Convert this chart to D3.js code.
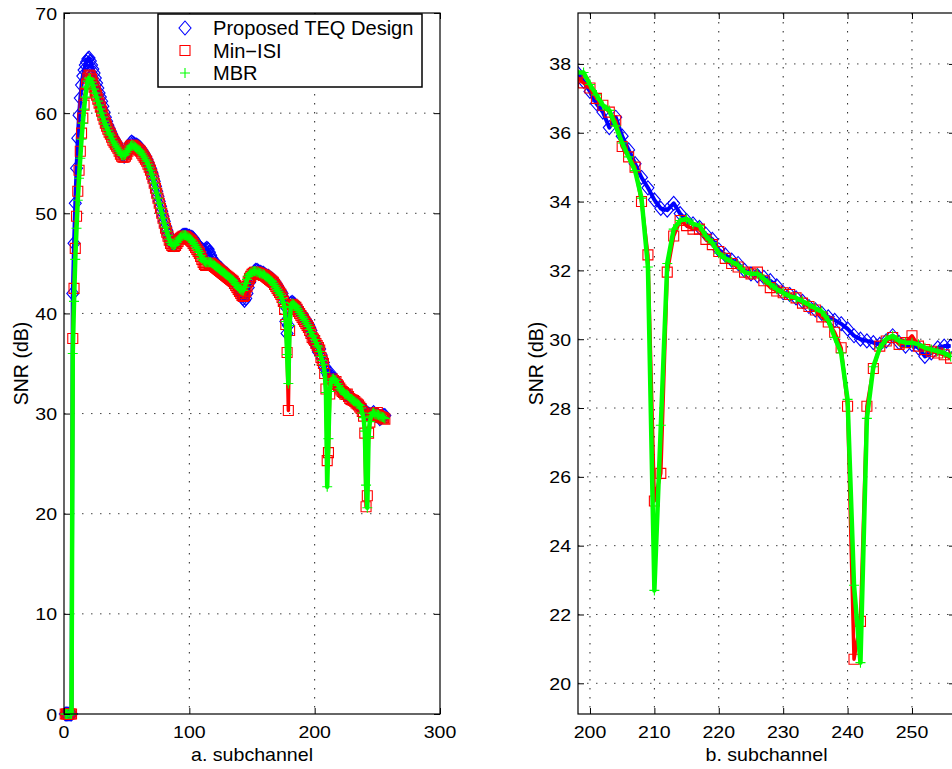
<!DOCTYPE html>
<html>
<head>
<meta charset="utf-8">
<script src="https://cdn.jsdelivr.net/npm/d3@7"></script>
<style>
  body { margin: 0; background: #fff; }
  svg { display: block; }
  text { font-family: "Liberation Sans", Arial, Helvetica, sans-serif; fill: #000; }
</style>
</head>
<body>
<script>

// subchannel index 1..256
var subchannel = d3.range(1, 257);

// Proposed TEQ Design (blue diamonds)
var teqSnr = [
  0, 0, 0, 0, 0, 0, 42.0, 47.0, 51.0, 54.5,
  57.5, 59.8, 61.5, 62.8, 63.7, 64.3, 64.8, 65.1, 65.4, 65.5,
  65.2, 64.8, 64.4, 64.0, 63.5, 63.0, 62.5, 62.0, 61.6, 61.2,
  60.7, 60.1, 59.6, 59.2, 58.8, 58.5, 58.2, 57.9, 57.6, 57.4,
  57.2, 57.0, 56.7, 56.4, 56.1, 55.9, 55.8, 55.7, 55.8, 56.0,
  56.3, 56.7, 57.0, 57.1, 57.0, 56.9, 56.8, 56.8, 56.7, 56.6,
  56.5, 56.3, 56.1, 55.9, 55.7, 55.4, 55.1, 54.8, 54.5, 54.1,
  53.7, 53.2, 52.7, 52.2, 51.7, 51.2, 50.7, 50.2, 49.7, 49.2,
  48.7, 48.3, 47.9, 47.5, 47.2, 47.0, 46.9, 46.9, 47.0, 47.2,
  47.4, 47.5, 47.6, 47.7, 47.8, 47.8, 47.8, 47.8, 47.7, 47.7,
  47.6, 47.6, 47.5, 47.3, 47.1, 46.9, 46.8, 46.6, 46.5, 46.4,
  46.3, 46.3, 46.4, 46.5, 46.4, 46.1, 45.8, 45.5, 45.3, 45.1,
  44.9, 44.8, 44.7, 44.6, 44.5, 44.3, 44.2, 44.1, 44.0, 43.9,
  43.7, 43.6, 43.5, 43.4, 43.3, 43.2, 43.0, 42.8, 42.6, 42.4,
  42.1, 41.8, 41.5, 41.3, 41.5, 42.0, 42.6, 43.1, 43.5, 43.8,
  44.0, 44.2, 44.3, 44.3, 44.2, 44.1, 44.1, 44.0, 44.0, 43.9,
  43.8, 43.7, 43.7, 43.6, 43.5, 43.4, 43.3, 43.2, 43.0, 42.8,
  42.6, 42.4, 42.2, 42.0, 41.6, 40.8, 39.2, 38.0, 38.8, 40.4,
  41.0, 41.1, 41.0, 40.9, 40.7, 40.6, 40.4, 40.2, 40.0, 39.9,
  39.7, 39.5, 39.3, 39.1, 38.9, 38.6, 38.3, 37.75, 37.5, 37.2,
  36.85, 36.6, 36.15, 36.45, 35.9, 35.5, 35.1, 34.7, 34.4, 34.05,
  33.8, 33.75, 33.95, 33.65, 33.45, 33.35, 33.25, 33.05, 32.9, 32.6,
  32.45, 32.3, 32.2, 32.0, 31.9, 31.85, 31.8, 31.7, 31.55, 31.35,
  31.3, 31.2, 31.1, 30.95, 30.85, 30.75, 30.65, 30.55, 30.45, 30.3,
  30.1, 30.0, 29.95, 29.9, 29.85, 29.95, 30.1, 29.9, 29.8, 29.85,
  29.75, 29.5, 29.6, 29.75, 29.8, 29.8
];

// Min-ISI (red squares)
var minIsiSnr = [
  0, 0, 0, 0, 0, 0, 37.5, 42.5, 46.5, 49.7,
  52.2, 54.3, 56.2, 58.0, 59.5, 60.8, 62.0, 62.9, 63.5, 63.8,
  63.7, 63.4, 63.0, 62.6, 62.2, 61.8, 61.4, 61.0, 60.6, 60.2,
  59.8, 59.4, 59.0, 58.7, 58.4, 58.1, 57.9, 57.6, 57.3, 57.1,
  56.9, 56.7, 56.5, 56.2, 55.9, 55.7, 55.6, 55.6, 55.7, 55.9,
  56.2, 56.5, 56.7, 56.8, 56.8, 56.7, 56.6, 56.5, 56.4, 56.3,
  56.2, 56.0, 55.8, 55.6, 55.4, 55.2, 54.9, 54.6, 54.3, 53.9,
  53.5, 53.0, 52.5, 52.0, 51.5, 51.0, 50.5, 50.0, 49.5, 49.0,
  48.5, 48.1, 47.7, 47.3, 47.0, 46.8, 46.7, 46.7, 46.8, 47.0,
  47.2, 47.4, 47.5, 47.6, 47.7, 47.7, 47.7, 47.6, 47.5, 47.4,
  47.3, 47.2, 47.0, 46.8, 46.6, 46.4, 46.2, 46.0, 45.7, 45.4,
  45.1, 44.9, 44.8, 44.8, 44.9, 45.0, 45.0, 44.9, 44.8, 44.7,
  44.6, 44.5, 44.4, 44.3, 44.2, 44.1, 44.0, 43.9, 43.8, 43.7,
  43.6, 43.5, 43.4, 43.3, 43.2, 43.0, 42.8, 42.6, 42.4, 42.2,
  42.0, 41.8, 41.7, 41.8, 42.2, 42.7, 43.2, 43.5, 43.7, 43.9,
  44.0, 44.1, 44.1, 44.1, 44.0, 44.0, 43.9, 43.9, 43.8, 43.8,
  43.7, 43.6, 43.5, 43.4, 43.3, 43.2, 43.1, 42.9, 42.7, 42.5,
  42.3, 42.1, 41.9, 41.6, 41.2, 40.4, 38.9, 36.1, 30.3, 38.3,
  40.6, 40.9, 40.8, 40.7, 40.6, 40.4, 40.2, 40.0, 39.8, 39.6,
  39.4, 39.2, 39.0, 38.8, 38.6, 38.3, 38.0, 37.6, 37.45, 37.3,
  37.0, 36.8, 36.6, 36.35, 35.6, 35.3, 35.0, 34.0, 32.45, 25.3,
  26.1, 31.95, 33.0, 33.45, 33.3, 33.2, 33.2, 32.9, 32.75, 32.55,
  32.35, 32.2, 32.1, 31.95, 31.9, 31.95, 31.7, 31.5, 31.4, 31.35,
  31.3, 31.2, 31.05, 30.95, 30.85, 30.65, 30.5, 30.2, 29.75, 28.05,
  20.7, 21.8, 28.05, 29.15, 29.8, 29.95, 30.05, 29.85, 29.9, 30.1,
  29.8, 29.7, 29.65, 29.6, 29.55, 29.45
];

// MBR (green plus)
var mbrSnr = [
  0, 0, 0, 0, 0, 0, 36.0, 41.2, 45.4, 48.5,
  51.3, 53.5, 55.5, 57.4, 59.0, 60.4, 61.6, 62.6, 63.2, 63.5,
  63.4, 63.1, 62.8, 62.4, 62.0, 61.6, 61.2, 60.8, 60.4, 60.0,
  59.6, 59.2, 58.9, 58.6, 58.3, 58.0, 57.8, 57.5, 57.2, 57.0,
  56.8, 56.6, 56.4, 56.2, 56.0, 55.8, 55.8, 55.8, 55.9, 56.1,
  56.3, 56.5, 56.7, 56.8, 56.8, 56.7, 56.6, 56.5, 56.4, 56.3,
  56.2, 56.0, 55.8, 55.6, 55.4, 55.2, 54.9, 54.6, 54.3, 53.9,
  53.5, 53.0, 52.5, 52.0, 51.5, 51.0, 50.5, 50.0, 49.5, 49.0,
  48.6, 48.2, 47.8, 47.4, 47.1, 46.9, 46.8, 46.8, 46.9, 47.1,
  47.3, 47.5, 47.6, 47.7, 47.8, 47.8, 47.8, 47.7, 47.6, 47.5,
  47.4, 47.3, 47.1, 46.9, 46.7, 46.5, 46.3, 46.1, 45.8, 45.5,
  45.3, 45.2, 45.1, 45.1, 45.1, 45.1, 45.1, 45.0, 44.9, 44.8,
  44.7, 44.6, 44.5, 44.4, 44.3, 44.2, 44.1, 44.0, 43.9, 43.8,
  43.7, 43.6, 43.5, 43.4, 43.3, 43.1, 42.9, 42.8, 42.6, 42.5,
  42.4, 42.3, 42.3, 42.6, 43.0, 43.4, 43.7, 43.9, 44.0, 44.1,
  44.2, 44.2, 44.2, 44.1, 44.1, 44.0, 44.0, 43.9, 43.9, 43.8,
  43.7, 43.6, 43.5, 43.4, 43.3, 43.2, 43.0, 42.8, 42.6, 42.4,
  42.2, 42.0, 41.8, 41.5, 41.1, 40.6, 39.2, 35.9, 33.0, 38.8,
  40.7, 41.0, 40.9, 40.8, 40.7, 40.5, 40.3, 40.1, 39.9, 39.7,
  39.5, 39.3, 39.1, 38.9, 38.7, 38.4, 38.1, 37.75, 37.75, 37.4,
  37.1, 36.8, 36.65, 36.2, 35.7, 35.3, 34.9, 34.1, 32.1, 22.7,
  27.5, 32.2, 33.2, 33.45, 33.5, 33.35, 33.3, 33.0, 32.8, 32.5,
  32.35, 32.25, 32.15, 31.95, 31.9, 31.9, 31.75, 31.6, 31.45, 31.35,
  31.25, 31.2, 31.1, 31.0, 30.9, 30.8, 30.55, 30.05, 29.6, 28.25,
  22.85, 20.6, 27.7, 29.2, 29.75, 30.0, 30.1, 29.95, 29.9, 29.9,
  29.85, 29.75, 29.7, 29.65, 29.6, 29.5
];

var seriesNames = ["Proposed TEQ Design", "Min\u2212ISI", "MBR"];

// tick labels
var xTicksA = [0, 100, 200, 300];
var yTicksA = [0, 10, 20, 30, 40, 50, 60, 70];
var xTicksB = [200, 210, 220, 230, 240, 250];
var yTicksB = [20, 22, 24, 26, 28, 30, 32, 34, 36, 38];

var W = 952, H = 769;
var svg = d3.select("body").append("svg").attr("width", W).attr("height", H);

var series = [
  {name: seriesNames[0], values: teqSnr, color: "#0000ff", lw: 4, marker: "diamond"},
  {name: seriesNames[1], values: minIsiSnr, color: "#ff0000", lw: 3.5, marker: "square"},
  {name: seriesNames[2], values: mbrSnr, color: "#00ff00", lw: 4.5, marker: "plus"}
];

function markerPath(type) {
  if (type == "diamond") return "M0,-7L6,0L0,7L-6,0Z";
  if (type == "square") return "M-5,-5H5V5H-5Z";
  return "M-5,0H5M0,-5V5";
}

// text with a bit of horizontal stretch, like the original raster
function putText(g, x, y, str, size, anchor, sx) {
  g.append("g").attr("transform", "translate(" + x + "," + y + ") scale(" + sx + ",1)")
    .append("text").attr("text-anchor", anchor).style("font-size", size + "px").text(str);
}

function drawPanel(p) {
  var x = d3.scaleLinear().domain(p.xDomain).range([p.left, p.right]);
  var y = d3.scaleLinear().domain(p.yDomain).range([p.bottom, p.top]);
  var g = svg.append("g");

  // dotted grid
  g.selectAll(".gx").data(p.xTicks.filter(function(t){ return x(t) > p.left + 1 && x(t) < p.right - 1; }))
    .enter().append("line")
    .attr("x1", function(d){ return x(d); }).attr("x2", function(d){ return x(d); })
    .attr("y1", p.top).attr("y2", p.bottom)
    .attr("stroke", "#222").attr("stroke-width", 1).attr("stroke-dasharray", "1.5,7.5");
  g.selectAll(".gy").data(p.yTicks.filter(function(t){ return y(t) > p.top + 1 && y(t) < p.bottom - 1; }))
    .enter().append("line")
    .attr("y1", function(d){ return y(d); }).attr("y2", function(d){ return y(d); })
    .attr("x1", p.left).attr("x2", p.right)
    .attr("stroke", "#444").attr("stroke-width", 1).attr("stroke-dasharray", "1.5,7.5");

  var clipId = "clip" + p.id;
  svg.append("clipPath").attr("id", clipId).append("rect")
    .attr("x", p.left).attr("y", p.top - 8).attr("width", p.right - p.left).attr("height", p.bottom - p.top + 16);

  var plot = g.append("g");
  if (p.clip) plot.attr("clip-path", "url(#" + clipId + ")");

  var line = d3.line().x(function(d){ return x(d[0]); }).y(function(d){ return y(d[1]); });

  series.forEach(function(s) {
    var pts = subchannel.map(function(c, i){ return [c, s.values[i]]; });
    plot.append("path").datum(pts).attr("d", line)
      .attr("fill", "none").attr("stroke", s.color).attr("stroke-width", s.lw)
      .attr("stroke-linejoin", "round");
    plot.selectAll(null).data(pts).enter().append("path")
      .attr("transform", function(d){ return "translate(" + x(d[0]) + "," + y(d[1]) + ")"; })
      .attr("d", markerPath(s.marker))
      .attr("fill", "none").attr("stroke", s.color).attr("stroke-width", 1.1);
  });

  // axes box with inward ticks on all sides
  var tk = 6;
  g.append("g").attr("transform", "translate(0," + p.bottom + ")")
    .call(d3.axisBottom(x).tickValues(p.xTicks).tickSize(-tk).tickFormat(""));
  g.append("g").attr("transform", "translate(0," + p.top + ")")
    .call(d3.axisTop(x).tickValues(p.xTicks).tickSize(-tk).tickFormat(""));
  g.append("g").attr("transform", "translate(" + p.left + ",0)")
    .call(d3.axisLeft(y).tickValues(p.yTicks).tickSize(-tk).tickFormat(""));
  g.append("g").attr("transform", "translate(" + p.right + ",0)")
    .call(d3.axisRight(y).tickValues(p.yTicks).tickSize(-tk).tickFormat(""));
  g.selectAll(".domain").remove();
  g.selectAll(".tick line").attr("stroke", "#000");
  g.append("rect").attr("x", p.left).attr("y", p.top)
    .attr("width", p.right - p.left).attr("height", p.bottom - p.top)
    .attr("fill", "none").attr("stroke", "#000").attr("stroke-width", 1.2);

  // tick labels
  p.xTicks.forEach(function(t) {
    putText(g, x(t), p.bottom + 24, String(t), 17, "middle", 1.15);
  });
  p.yTicks.forEach(function(t) {
    putText(g, p.left - 7, y(t) + 6.5, String(t), 17, "end", 1.15);
  });

  putText(g, (p.left + p.right) / 2, 761, p.xLabel, 18.5, "middle", 1.06);

  g.append("g").attr("transform", "translate(" + p.yLabelX + "," + ((p.top + p.bottom) / 2) + ") scale(1,0.93) rotate(-90)")
    .append("text").attr("text-anchor", "middle").style("font-size", "21px").text("SNR (dB)");

  return {x: x, y: y, g: g};
}

drawPanel({
  id: "a", left: 64, right: 440, top: 13, bottom: 714,
  xDomain: [0, 300], yDomain: [0, 70],
  xTicks: xTicksA, yTicks: yTicksA, xLabel: "a. subchannel", yLabelX: 28, clip: false
});

drawPanel({
  id: "b", left: 578, right: 955, top: 13, bottom: 714,
  xDomain: [198.14, 256.68], yDomain: [19.108, 39.48],
  xTicks: xTicksB, yTicks: yTicksB, xLabel: "b. subchannel", yLabelX: 543, clip: true
});

// legend (left panel)
var leg = svg.append("g");
leg.append("rect").attr("x", 158).attr("y", 14).attr("width", 264).attr("height", 73)
  .attr("fill", "#fff").attr("stroke", "#000").attr("stroke-width", 1.5);
series.forEach(function(s, i) {
  var cy = 28 + i * 22.5;
  leg.append("path").attr("transform", "translate(185," + cy + ")")
    .attr("d", markerPath(s.marker)).attr("fill", "none").attr("stroke", s.color).attr("stroke-width", 1.1);
  putText(leg, 213, cy + 7, s.name, 19.5, "start", 1.03);
});

</script>
</body>
</html>
